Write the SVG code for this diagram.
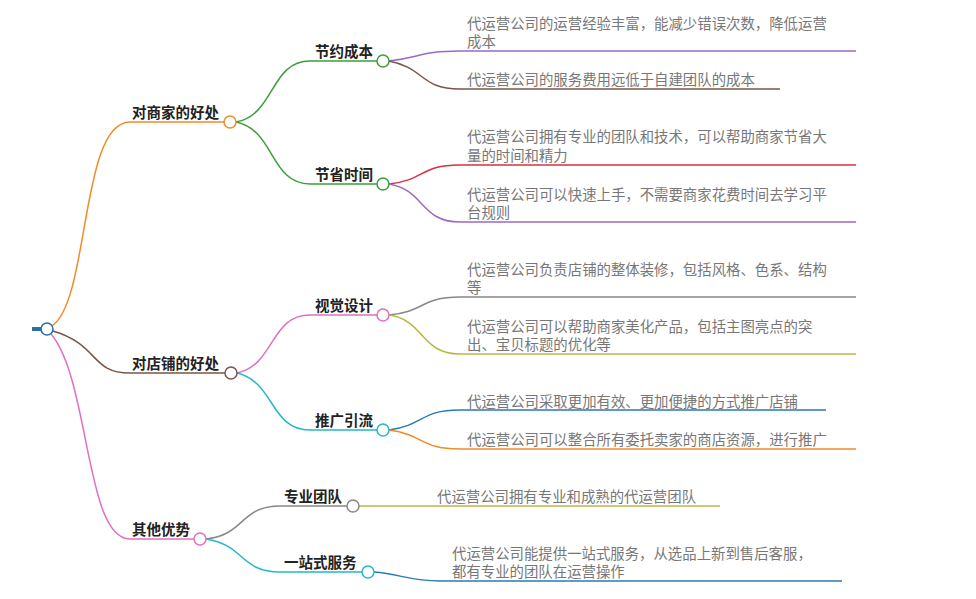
<svg xmlns="http://www.w3.org/2000/svg" width="976" height="599" viewBox="0 0 976 599">
<style>
.e{fill:none;stroke-width:1.5}
.n{fill:#fff;stroke-width:1.5}
.b{font-family:"Noto Sans CJK SC",sans-serif;font-size:14.5px;font-weight:bold;fill:#222}
.t{font-family:"Noto Sans CJK SC",sans-serif;font-size:14.4px;fill:#777}
</style>
<rect width="976" height="599" fill="#fff"/>
<g id="connectors">
<line x1="32" y1="329" x2="42" y2="329" stroke="#2a6fa8" stroke-width="4"/>
<path class="e" stroke="#f08c28" d="M52,326 C90,300 80,122 130,122 L224,122"/>
<path class="e" stroke="#7a5548" d="M53,331 C100,345 90,373 130,373 L225,373"/>
<path class="e" stroke="#e070c0" d="M51,334 C90,380 85,539 130,539 L194,539"/>
<path class="e" stroke="#3aa03a" d="M236,122 C275,115 270,61 310,61 L377,61"/>
<path class="e" stroke="#3aa03a" d="M236,122 C275,130 270,184 310,184 L377,184"/>
<path class="e" stroke="#e070c0" d="M237,373 C275,365 270,315 310,315 L377,315"/>
<path class="e" stroke="#26b8c8" d="M237,373 C275,382 270,430 310,430 L377,430"/>
<path class="e" stroke="#888" d="M206,539 C245,535 240,506 280,506 L347,506"/>
<path class="e" stroke="#26b8c8" d="M206,539 C245,545 240,572 280,572 L362,572"/>
<path class="e" stroke="#9a6ac8" d="M389,61 C420,58 420,51 460,51 L856,51"/>
<path class="e" stroke="#7a5548" d="M389,61 C425,68 420,89 460,89 L780,89"/>
<path class="e" stroke="#d83040" d="M389,184 C425,180 420,165 460,165 L856,165"/>
<path class="e" stroke="#9a6ac8" d="M389,184 C425,190 420,222 460,222 L856,222"/>
<path class="e" stroke="#888" d="M389,315 C425,312 420,297 460,297 L856,297"/>
<path class="e" stroke="#b8b840" d="M389,315 C425,320 420,354 460,354 L856,354"/>
<path class="e" stroke="#2a7ab8" d="M389,430 C425,425 420,410 460,410 L826,410"/>
<path class="e" stroke="#f08c28" d="M389,430 C425,435 420,449 460,449 L856,449"/>
<path class="e" stroke="#b8b840" d="M359,506 L720,506"/>
<path class="e" stroke="#2a7ab8" d="M374,572 C400,574 410,581 440,581 L842,581"/>
</g>
<g id="root"><circle class="n" cx="47" cy="329" r="6" stroke="#2a6fa8" stroke-width="2"/></g>
<g id="n1"><text class="b" x="132" y="118">对商家的好处</text><circle class="n" cx="230" cy="122" r="6" stroke="#f08c28"/></g>
<g id="n2"><text class="b" x="132" y="369">对店铺的好处</text><circle class="n" cx="231" cy="373" r="6" stroke="#7a5548"/></g>
<g id="n3"><text class="b" x="132" y="535">其他优势</text><circle class="n" cx="200" cy="539" r="6" stroke="#e070c0"/></g>
<g id="n11"><text class="b" x="315" y="57">节约成本</text><circle class="n" cx="383" cy="61" r="6" stroke="#3aa03a"/></g>
<g id="n12"><text class="b" x="315" y="180">节省时间</text><circle class="n" cx="383" cy="184" r="6" stroke="#3aa03a"/></g>
<g id="n21"><text class="b" x="315" y="311">视觉设计</text><circle class="n" cx="383" cy="315" r="6" stroke="#e070c0"/></g>
<g id="n22"><text class="b" x="315" y="426">推广引流</text><circle class="n" cx="383" cy="430" r="6" stroke="#26b8c8"/></g>
<g id="n31"><text class="b" x="284" y="502">专业团队</text><circle class="n" cx="353" cy="506" r="6" stroke="#888"/></g>
<g id="n32"><text class="b" x="284" y="568">一站式服务</text><circle class="n" cx="368" cy="572" r="6" stroke="#26b8c8"/></g>
<g id="l111"><text class="t" x="467" y="29">代运营公司的运营经验丰富，能减少错误次数，降低运营</text><text class="t" x="467" y="47">成本</text></g>
<g id="l112"><text class="t" x="467" y="85">代运营公司的服务费用远低于自建团队的成本</text></g>
<g id="l121"><text class="t" x="467" y="142">代运营公司拥有专业的团队和技术，可以帮助商家节省大</text><text class="t" x="467" y="161">量的时间和精力</text></g>
<g id="l122"><text class="t" x="467" y="200">代运营公司可以快速上手，不需要商家花费时间去学习平</text><text class="t" x="467" y="218">台规则</text></g>
<g id="l211"><text class="t" x="467" y="275">代运营公司负责店铺的整体装修，包括风格、色系、结构</text><text class="t" x="467" y="293">等</text></g>
<g id="l212"><text class="t" x="467" y="332">代运营公司可以帮助商家美化产品，包括主图亮点的突</text><text class="t" x="467" y="350">出、宝贝标题的优化等</text></g>
<g id="l221"><text class="t" x="467" y="407">代运营公司采取更加有效、更加便捷的方式推广店铺</text></g>
<g id="l222"><text class="t" x="467" y="445">代运营公司可以整合所有委托卖家的商店资源，进行推广</text></g>
<g id="l311"><text class="t" x="437" y="502">代运营公司拥有专业和成熟的代运营团队</text></g>
<g id="l321"><text class="t" x="452" y="559">代运营公司能提供一站式服务，从选品上新到售后客服，</text><text class="t" x="452" y="577">都有专业的团队在运营操作</text></g>
</svg>
